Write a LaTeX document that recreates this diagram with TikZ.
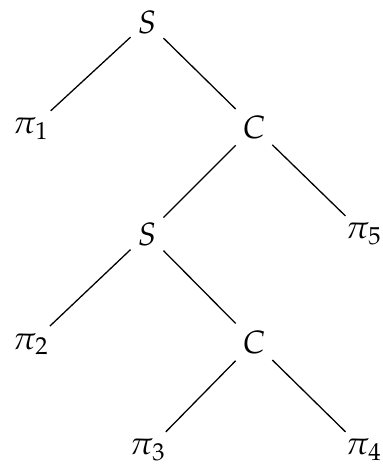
\documentclass[tikz,border=0pt]{standalone}
\usepackage{amsmath}
\usepackage{mathpazo}
\usepackage{tikz}

\begin{document}
\begin{tikzpicture}[x=0.31pt,y=-0.31pt,every node/.style={inner sep=2pt}]
	\useasboundingbox (0,0) rectangle (382,464);
			\node	(s1) at (147,22) {$S$};
			\node	(p1) at (31,129) {$\pi_1$};
			\node	(c1) at (254,127) {$C$};
			\node	(s2) at (147,234) {$S$};
			\node	(p5) at (364,234) {$\pi_5$};
			\node	(p2) at (31,344) {$\pi_2$};
			\node	(c2) at (254,342) {$C$};
			\node	(p3) at (148,450) {$\pi_3$};
			\node	(p4) at (364,450) {$\pi_4$};
			
			\draw 
			(s1) edge (p1) 
			(s1) edge (c1)
			(c1) edge (s2)
			(c1) edge (p5)
			(s2) edge (p2)
			(s2) edge (c2)
			(c2) edge (p3)
			(c2) edge (p4)
			;
		\end{tikzpicture}
\end{document}
